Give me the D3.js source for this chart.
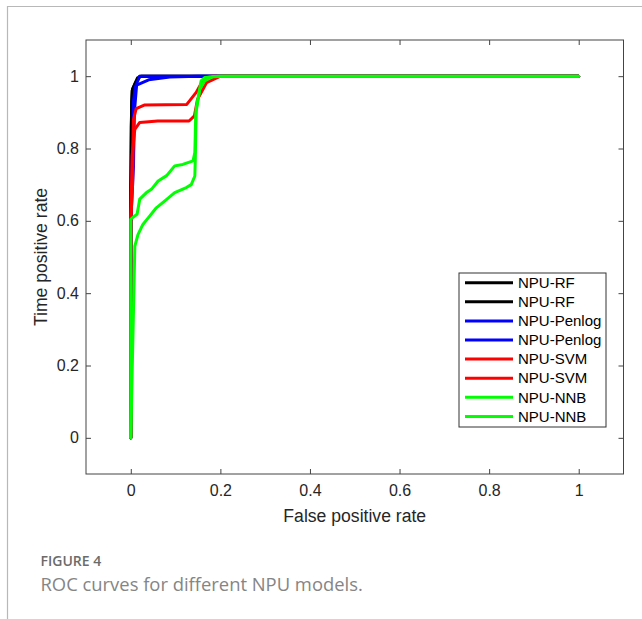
<!DOCTYPE html>
<html>
<head>
<meta charset="utf-8">
<script src="https://cdn.jsdelivr.net/npm/d3@7"></script>
<style>
  body { margin: 0; background: #fff; }
  svg { display: block; }
</style>
</head>
<body>
<div id="chart"></div>
<script>
// ROC points [false positive rate, true positive rate]
const rf1 = [[0, 0], [0, 0.62], [0.001, 0.86], [0.003, 0.96], [0.01, 0.98], [0.02, 1], [1, 1]];
const rf2 = [[0, 0], [0, 0.7], [0.002, 0.93], [0.004, 0.965], [0.015, 0.995], [0.025, 1], [1, 1]];
const penlog1 = [[0, 0], [0, 0.6], [0.004, 0.8], [0.006, 0.93], [0.01, 0.97], [0.02, 1], [1, 1]];
const penlog2 = [[0, 0], [0, 0.6], [0.006, 0.75], [0.008, 0.9], [0.013, 0.975], [0.04, 0.99], [0.087, 0.998], [0.15, 1], [1, 1]];
const svm1 = [[0, 0], [0, 0.6], [0.004, 0.7], [0.006, 0.88], [0.012, 0.91], [0.03, 0.92], [0.125, 0.922], [0.146, 0.955], [0.163, 0.993], [0.18, 1], [1, 1]];
const svm2 = [[0, 0], [0, 0.6], [0.003, 0.78], [0.009, 0.853], [0.02, 0.872], [0.06, 0.876], [0.13, 0.876], [0.142, 0.89], [0.149, 0.936], [0.169, 0.982], [0.198, 0.999], [0.21, 1], [1, 1]];
const nnb1 = [[0, 0], [0, 0.604], [0.005, 0.61], [0.014, 0.618], [0.02, 0.66], [0.035, 0.678], [0.046, 0.687], [0.061, 0.71], [0.08, 0.725], [0.098, 0.752], [0.116, 0.756], [0.139, 0.766], [0.143, 0.789], [0.145, 0.89], [0.146, 0.909], [0.157, 0.987], [0.165, 0.996], [0.198, 1], [1, 1]];
const nnb2 = [[0, 0], [0.009, 0.53], [0.016, 0.562], [0.027, 0.59], [0.042, 0.613], [0.057, 0.636], [0.076, 0.655], [0.098, 0.678], [0.124, 0.692], [0.135, 0.70], [0.143, 0.724], [0.144, 0.77], [0.145, 0.844], [0.146, 0.904], [0.154, 0.964], [0.165, 0.987], [0.183, 0.999], [0.213, 1], [1, 1]];

const seriesNames = ['NPU-RF', 'NPU-RF', 'NPU-Penlog', 'NPU-Penlog', 'NPU-SVM', 'NPU-SVM', 'NPU-NNB', 'NPU-NNB'];
const seriesData = [rf1, rf2, penlog1, penlog2, svm1, svm2, nnb1, nnb2];
const xTicks = [0, 0.2, 0.4, 0.6, 0.8, 1];
const yTicks = [0, 0.2, 0.4, 0.6, 0.8, 1];

const colors = ['#000000', '#000000', '#0000ff', '#0000ff', '#ff0000', '#ff0000', '#00ff00', '#00ff00'];

const width = 642;
const height = 619;
const plot = { left: 86, right: 623.5, top: 40, bottom: 474 };
const axisColor = '#444';
const font = '"Liberation Sans", Arial, sans-serif';
const captionFont = '"Open Sans", sans-serif';

const svg = d3.select('#chart')
    .append('svg')
    .attr('width', width)
    .attr('height', height);

// page frame (top and left rule)
svg.append('path')
    .attr('d', `M7.5,${height} V6.5 H${width}`)
    .attr('fill', 'none')
    .attr('stroke', '#b8b8b8')
    .attr('stroke-width', 1.2);

const x = d3.scaleLinear().domain([-0.1, 1.1]).range([plot.left, plot.right]);
const y = d3.scaleLinear().domain([-0.1, 1.1]).range([plot.bottom, plot.top]);

const fmt = d => d3.format('~g')(d);

function styleAxis(g) {
    g.attr('font-family', null).attr('font-size', null);
    g.select('.domain').remove();
    g.selectAll('line').attr('stroke', axisColor);
    g.selectAll('text')
        .attr('fill', '#262626')
        .style('font-family', font)
        .style('font-size', '16px');
}

svg.append('g')
    .attr('transform', `translate(0,${plot.bottom})`)
    .call(d3.axisBottom(x).tickValues(xTicks).tickFormat(fmt).tickSize(-5).tickPadding(11))
    .call(styleAxis);
svg.append('g')
    .attr('transform', `translate(0,${plot.top})`)
    .call(d3.axisTop(x).tickValues(xTicks).tickFormat('').tickSize(-5))
    .call(styleAxis);
svg.append('g')
    .attr('transform', `translate(${plot.left},0)`)
    .call(d3.axisLeft(y).tickValues(yTicks).tickFormat(fmt).tickSize(-5).tickPadding(7))
    .call(styleAxis);
svg.append('g')
    .attr('transform', `translate(${plot.right},0)`)
    .call(d3.axisRight(y).tickValues(yTicks).tickFormat('').tickSize(-5))
    .call(styleAxis);

// axes box
svg.append('rect')
    .attr('x', plot.left)
    .attr('y', plot.top)
    .attr('width', plot.right - plot.left)
    .attr('height', plot.bottom - plot.top)
    .attr('fill', 'none')
    .attr('stroke', axisColor)
    .attr('stroke-width', 1);

const line = d3.line()
    .x(d => x(d[0]))
    .y(d => y(d[1]));

svg.append('g')
    .selectAll('path')
    .data(seriesData)
    .enter()
    .append('path')
    .attr('d', line)
    .attr('fill', 'none')
    .attr('stroke', (d, i) => colors[i])
    .attr('stroke-width', 3)
    .attr('stroke-linejoin', 'round')
    .attr('stroke-linecap', 'round');

// axis labels
svg.append('text')
    .attr('x', (plot.left + plot.right) / 2)
    .attr('y', 522)
    .attr('text-anchor', 'middle')
    .style('font-family', font)
    .style('font-size', '17.6px')
    .attr('fill', '#262626')
    .text('False positive rate');

svg.append('text')
    .attr('transform', `translate(47,${(plot.top + plot.bottom) / 2}) rotate(-90)`)
    .attr('text-anchor', 'middle')
    .style('font-family', font)
    .style('font-size', '17.6px')
    .attr('fill', '#262626')
    .text('Time positive rate');

// legend
const legend = svg.append('g').attr('transform', 'translate(459,273)');
legend.append('rect')
    .attr('width', 147)
    .attr('height', 154)
    .attr('fill', '#fff')
    .attr('stroke', '#333')
    .attr('stroke-width', 1);

const rows = legend.selectAll('g.row')
    .data(seriesNames)
    .enter()
    .append('g')
    .attr('class', 'row')
    .attr('transform', (d, i) => `translate(0,${9.7 + i * 19.1})`);
rows.append('line')
    .attr('x1', 6)
    .attr('x2', 54)
    .attr('stroke', (d, i) => colors[i])
    .attr('stroke-width', 3);
rows.append('text')
    .attr('x', 59)
    .attr('dy', '0.35em')
    .style('font-family', font)
    .style('font-size', '15px')
    .attr('fill', '#000')
    .text(d => d);

// caption
svg.append('text')
    .attr('x', 40.5)
    .attr('y', 566)
    .style('font-family', captionFont)
    .style('font-size', '14px')
    .style('font-weight', 600)
    .attr('fill', '#6b6b6b')
    .text('FIGURE 4');

svg.append('text')
    .attr('x', 40.5)
    .attr('y', 591)
    .style('font-family', captionFont)
    .style('font-size', '18.4px')
    .attr('fill', '#858585')
    .text('ROC curves for different NPU models.');
</script>
</body>
</html>
